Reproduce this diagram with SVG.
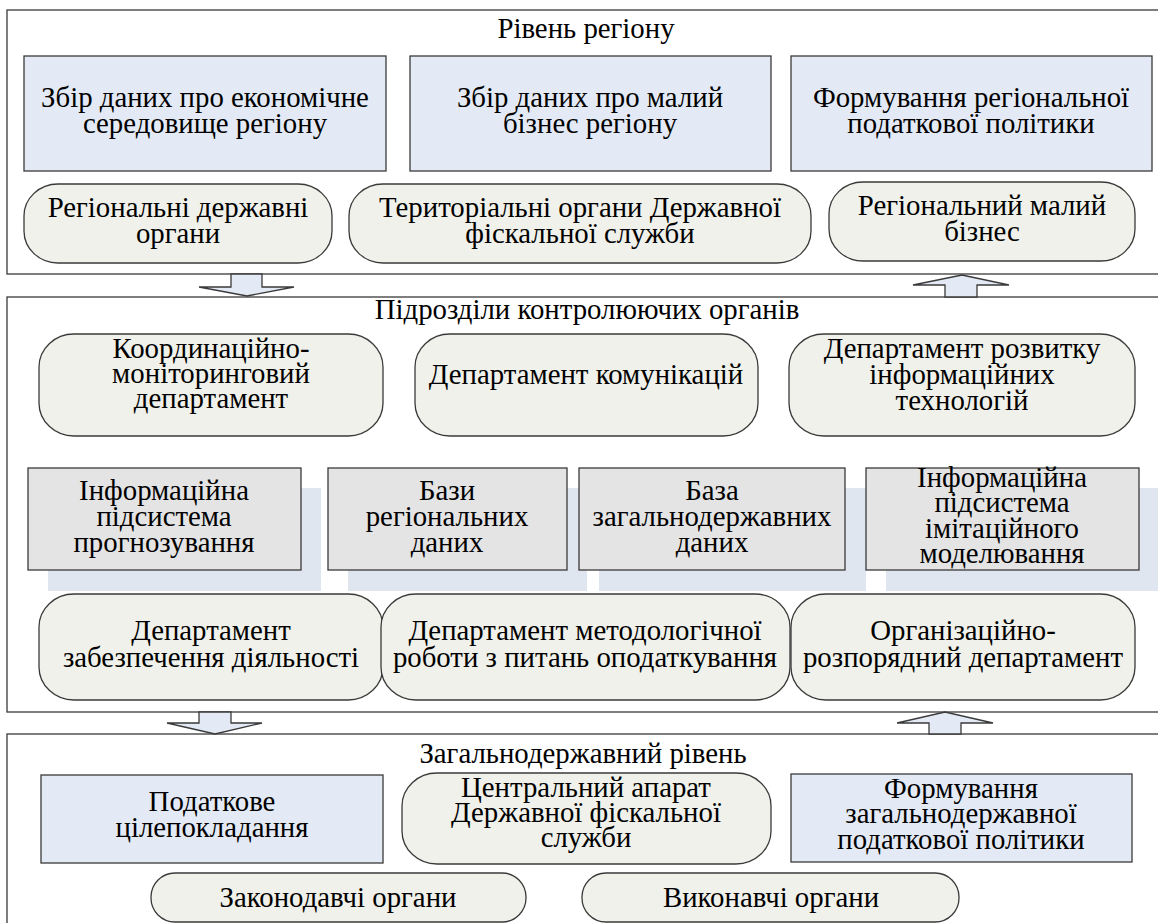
<svg xmlns="http://www.w3.org/2000/svg" width="1158" height="923" viewBox="0 0 1158 923">
<style>
text{font-family:"Liberation Serif","Times New Roman",serif;font-size:28.8px;fill:#000;text-anchor:middle}
.frame{fill:#fff;stroke:#3a3a3a;stroke-width:1.3}
.blue{fill:#E4EAF5;stroke:#3a3a3a;stroke-width:1.3}
.pill{fill:#F0F1EA;stroke:#3a3a3a;stroke-width:1.3}
.grey{fill:#E4E4E4;stroke:#3a3a3a;stroke-width:1.3}
.shadow{fill:#DFE6F0;stroke:none}
.arrow{fill:#E4EAF5;stroke:#3a3a3a;stroke-width:1.3;stroke-linejoin:miter}
</style>
<rect width="1158" height="923" fill="#fff"/>
<g id="frame-region">
<rect class="frame" x="7" y="10" width="1165" height="264"/>
<text x="586" y="38">Рівень регіону</text>
</g>
<g id="frame-control">
<rect class="frame" x="7" y="297" width="1165" height="415"/>
<text x="587" y="319">Підрозділи контролюючих органів</text>
</g>
<g id="frame-state">
<rect class="frame" x="7" y="734" width="1165" height="210"/>
<text x="583" y="763">Загальнодержавний рівень</text>
</g>
<g id="connectors">
<polygon class="arrow" points="231,274 262,274 262,287 294,287 247,296 199,287 231,287"/>
<polygon class="arrow" points="945,297 945,285 913,285 962,275 1009,285 977,285 977,297"/>
<polygon class="arrow" points="199,712 231,712 231,723 262,723 215,734 167,723 199,723"/>
<polygon class="arrow" points="929,734 929,723 897,723 945,712 993,723 961,723 961,734"/>
</g>
<g id="n-econ">
<rect class="blue" x="24" y="56" width="362" height="115"/>
<text x="205" y="107">Збір даних про економічне</text>
<text x="205" y="133">середовище регіону</text>
</g>
<g id="n-smallbiz-data">
<rect class="blue" x="410" y="56" width="361" height="115"/>
<text x="590" y="107">Збір даних про малий</text>
<text x="590" y="133">бізнес регіону</text>
</g>
<g id="n-reg-policy">
<rect class="blue" x="791" y="56" width="361" height="115"/>
<text x="971" y="107">Формування регіональної</text>
<text x="971" y="133">податкової політики</text>
</g>
<g id="n-reg-gov">
<rect class="pill" x="24" y="184" width="308" height="79" rx="34" ry="32"/>
<text x="178" y="217">Регіональні державні</text>
<text x="178" y="243">органи</text>
</g>
<g id="n-terr">
<rect class="pill" x="349" y="184" width="462" height="79" rx="34" ry="32"/>
<text x="580" y="217">Територіальні органи Державної</text>
<text x="580" y="243">фіскальної служби</text>
</g>
<g id="n-reg-biz">
<rect class="pill" x="829" y="182" width="306" height="79" rx="34" ry="32"/>
<text x="982" y="215">Регіональний малий</text>
<text x="982" y="241">бізнес</text>
</g>
<g id="n-coord">
<rect class="pill" x="39" y="334" width="344" height="102" rx="35" ry="33"/>
<text x="211" y="358">Координаційно-</text>
<text x="211" y="383">моніторинговий</text>
<text x="211" y="408">департамент</text>
</g>
<g id="n-comm">
<rect class="pill" x="415" y="334" width="343" height="102" rx="35" ry="33"/>
<text x="586" y="384">Департамент комунікацій</text>
</g>
<g id="n-it">
<rect class="pill" x="789" y="334" width="346" height="102" rx="35" ry="33"/>
<text x="962" y="358">Департамент розвитку</text>
<text x="962" y="384">інформаційних</text>
<text x="962" y="410">технологій</text>
</g>
<g id="n-forecast">
<rect class="shadow" x="48" y="488" width="273" height="103"/>
<rect class="grey" x="28" y="468" width="273" height="102"/>
<text x="164" y="500">Інформаційна</text>
<text x="164" y="526">підсистема</text>
<text x="164" y="552">прогнозування</text>
</g>
<g id="n-regdb">
<rect class="shadow" x="348" y="488" width="239" height="103"/>
<rect class="grey" x="328" y="468" width="239" height="102"/>
<text x="447" y="500">Бази</text>
<text x="447" y="526">регіональних</text>
<text x="447" y="552">даних</text>
</g>
<g id="n-statedb">
<rect class="shadow" x="599" y="488" width="267" height="103"/>
<rect class="grey" x="579" y="468" width="266" height="102"/>
<text x="712" y="500">База</text>
<text x="712" y="526">загальнодержавних</text>
<text x="712" y="552">даних</text>
</g>
<g id="n-sim">
<rect class="shadow" x="886" y="488" width="280" height="103"/>
<rect class="grey" x="866" y="468" width="273" height="102"/>
<text x="1002" y="487">Інформаційна</text>
<text x="1002" y="512">підсистема</text>
<text x="1002" y="538">імітаційного</text>
<text x="1002" y="563">моделювання</text>
</g>
<g id="n-support">
<rect class="pill" x="39" y="594" width="344" height="106" rx="35" ry="33"/>
<text x="211" y="640">Департамент</text>
<text x="211" y="667">забезпечення діяльності</text>
</g>
<g id="n-method">
<rect class="pill" x="381" y="594" width="409" height="106" rx="35" ry="33"/>
<text x="585" y="640">Департамент методологічної</text>
<text x="585" y="667">роботи з питань оподаткування</text>
</g>
<g id="n-org">
<rect class="pill" x="791" y="594" width="344" height="106" rx="35" ry="33"/>
<text x="963" y="640">Організаційно-</text>
<text x="963" y="667">розпорядний департамент</text>
</g>
<g id="n-goal">
<rect class="blue" x="41" y="775" width="342" height="88"/>
<text x="212" y="811">Податкове</text>
<text x="212" y="837">цілепокладання</text>
</g>
<g id="n-central">
<rect class="pill" x="402" y="773" width="369" height="91" rx="35" ry="33"/>
<text x="586" y="797">Центральний апарат</text>
<text x="586" y="822">Державної фіскальної</text>
<text x="586" y="847">служби</text>
</g>
<g id="n-state-policy">
<rect class="blue" x="791" y="774" width="341" height="88"/>
<text x="961" y="798">Формування</text>
<text x="961" y="823">загальнодержавної</text>
<text x="961" y="849">податкової політики</text>
</g>
<g id="n-legis">
<rect class="pill" x="151" y="873" width="375" height="49" rx="24" ry="24"/>
<text x="338" y="907">Законодавчі органи</text>
</g>
<g id="n-exec">
<rect class="pill" x="582" y="873" width="377" height="49" rx="24" ry="24"/>
<text x="771" y="907">Виконавчі органи</text>
</g>
</svg>
